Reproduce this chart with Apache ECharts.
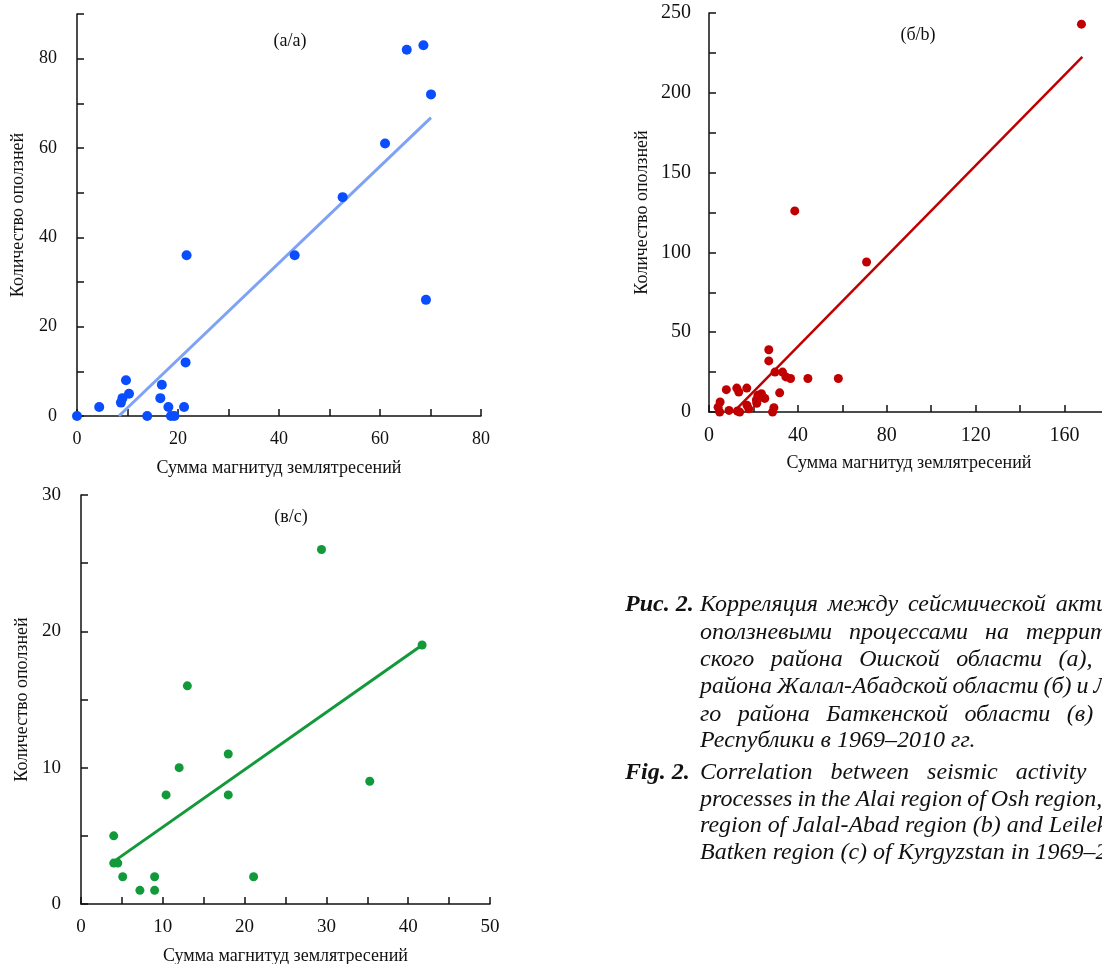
<!DOCTYPE html>
<html><head><meta charset="utf-8">
<script src="https://cdn.jsdelivr.net/npm/echarts@6/dist/echarts.min.js"></script>
<style>html,body{margin:0;padding:0;background:#fff}#c{width:1102px;height:964px}</style>
</head><body><div id="c"></div>
<script>
// Panel (a/a)
const aX = [0, 4.4, 8.7, 9.0, 9.7, 10.3, 13.9, 16.5, 16.8, 18.1, 18.6, 19.3, 21.2, 21.5, 21.7, 43.1, 52.6, 61.0, 65.3, 68.6, 70.1, 69.1];
const aY = [0, 2, 3, 4, 8, 5, 0, 4, 7, 2, 0, 0, 2, 12, 36, 36, 49, 61, 82, 83, 72, 26];
const aTrendX = [8.3, 70.1];
const aTrendY = [0, 66.8];
// Panel (б/b)
const bX = [167.6, 38.6, 70.9, 26.9, 26.9, 29.7, 33.1, 34.6, 36.7, 44.5, 58.2, 7.8, 12.5, 13.4, 17.0, 31.8, 22.0, 23.6, 25.1, 21.3, 21.5, 17.1, 17.9, 5.0, 4.1, 4.8, 9.0, 12.8, 13.8, 29.2, 28.6, 24.5];
const bY = [243, 126, 94, 39, 32, 25, 25, 22, 21, 21, 21, 14, 15, 12.5, 15, 12, 10.5, 11.5, 8.5, 7.5, 5.5, 4.2, 2, 6.3, 3, 0, 1, 0.6, 0, 2.7, 0, 9];
const bTrendX = [12, 168];
const bTrendY = [1.3, 222.5];
// Panel (в/c)
const cX = [4.0, 4.0, 4.5, 5.1, 7.2, 9.0, 9.0, 10.4, 12.0, 13.0, 18.0, 18.0, 21.1, 29.4, 35.3, 41.7];
const cY = [5, 3, 3, 2, 1, 2, 1, 8, 10, 16, 11, 8, 2, 26, 9, 19];
const cTrendX = [4.2, 41.5];
const cTrendY = [3.2, 18.9];

const xTitle = 'Сумма магнитуд землятресений';
const yTitle = 'Количество оползней';
const panelLabels = ['(а/а)', '(б/b)', '(в/с)'];
const captionRu = [
  'Корреляция между сейсмической активностью и',
  'оползневыми процессами на территории Алай-',
  'ского района Ошской области (а), Сузак-',
  'района Жалал-Абадской области (б) и Лейлекско-',
  'го района Баткенской области (в) Кыргызской',
  'Республики в 1969–2010 гг.'
];
const captionEn = [
  'Correlation between seismic activity and landslide',
  'processes in the Alai region of Osh region, Suzak',
  'region of Jalal-Abad region (b) and Leilek region of',
  'Batken region (c) of Kyrgyzstan in 1969–2010.'
];

const SERIF = '"Liberation Serif", "DejaVu Serif", serif';
const INK = '#111';
const pairs = (xs, ys) => xs.map((x, i) => [x, ys[i]]);

function axisX(gi, max, interval, labelEvery, fs, gap) {
  return {
    type: 'value', gridIndex: gi, min: 0, max: max, interval: interval,
    axisLine: { show: true, onZero: false, lineStyle: { color: INK, width: 1.5 } },
    axisTick: { show: true, inside: true, length: 7, lineStyle: { color: INK, width: 1.5 } },
    axisLabel: { fontFamily: SERIF, fontSize: fs, color: INK, margin: 14,
      formatter: v => (Math.round(v) % labelEvery === 0 ? String(v) : '') },
    splitLine: { show: false },
    name: xTitle, nameLocation: 'middle', nameGap: gap,
    nameTextStyle: { fontFamily: SERIF, fontSize: 18, color: INK }
  };
}
function axisY(gi, max, interval, labelEvery, fs, gap, margin) {
  return {
    type: 'value', gridIndex: gi, min: 0, max: max, interval: interval,
    axisLine: { show: true, onZero: false, lineStyle: { color: INK, width: 1.5 } },
    axisTick: { show: true, inside: true, length: 7, lineStyle: { color: INK, width: 1.5 } },
    axisLabel: { fontFamily: SERIF, fontSize: fs, color: INK, margin: margin,
      formatter: v => (Math.round(v) % labelEvery === 0 ? String(v) : '') },
    splitLine: { show: false },
    name: yTitle, nameLocation: 'middle', nameGap: gap,
    nameTextStyle: { fontFamily: SERIF, fontSize: 18, color: INK }
  };
}

// caption layout helper (justified lines via per-line word gap)
const mctx = document.createElement('canvas').getContext('2d');
function captionLine(text, x, y, gap, font) {
  mctx.font = font;
  const words = text.split(' ');
  const els = [];
  let cx = x;
  words.forEach(w => {
    els.push({ type: 'text', x: cx, y: y, style: { text: w, font: font, fill: INK, textVerticalAlign: 'middle', textAlign: 'left' } });
    cx += mctx.measureText(w).width + gap;
  });
  return els;
}
const capFont = 'italic 24px "Liberation Serif"';
const capBold = 'italic bold 24px "Liberation Serif"';
const ruGaps = [10, 17, 16.5, 5, 16.5, 6];
const ruY = [605, 633, 660, 687, 715, 741];
const enGaps = [18, 5, 6, 6];
const enY = [773, 800, 826, 853];
let captionEls = [];
captionEls.push({ type: 'text', x: 625, y: ruY[0], style: { text: 'Рис. 2.', font: capBold, fill: INK, textVerticalAlign: 'middle' } });
captionEls.push({ type: 'text', x: 625, y: enY[0], style: { text: 'Fig. 2.', font: capBold, fill: INK, textVerticalAlign: 'middle' } });
captionRu.forEach((t, i) => { captionEls = captionEls.concat(captionLine(t, 700, ruY[i], ruGaps[i], capFont)); });
captionEn.forEach((t, i) => { captionEls = captionEls.concat(captionLine(t, 700, enY[i], enGaps[i], capFont)); });

const labelFont = '18px "Liberation Serif"';
const panelLabelEls = [
  { type: 'text', x: 290, y: 41, style: { text: panelLabels[0], font: labelFont, fill: INK, textAlign: 'center', textVerticalAlign: 'middle' } },
  { type: 'text', x: 918, y: 35, style: { text: panelLabels[1], font: labelFont, fill: INK, textAlign: 'center', textVerticalAlign: 'middle' } },
  { type: 'text', x: 291, y: 517, style: { text: panelLabels[2], font: labelFont, fill: INK, textAlign: 'center', textVerticalAlign: 'middle' } }
];

const chart = echarts.init(document.getElementById('c'), null, { renderer: 'canvas' });
chart.setOption({
  backgroundColor: '#fff',
  animation: false,
  grid: [
    { left: 77, top: 14, width: 404, height: 402, outerBoundsMode: 'none', containLabel: false },
    { left: 709, top: 13, width: 400, height: 399, outerBoundsMode: 'none', containLabel: false },
    { left: 81, top: 495, width: 409, height: 409, outerBoundsMode: 'none', containLabel: false }
  ],
  xAxis: [
    axisX(0, 80, 10, 20, 18, 43),
    axisX(1, 180, 20, 40, 20, 42),
    axisX(2, 50, 5, 10, 19, 43)
  ],
  yAxis: [
    axisY(0, 90, 10, 20, 18, 50, 20),
    axisY(1, 250, 25, 50, 20, 58, 18),
    axisY(2, 30, 5, 10, 19, 50, 20)
  ],
  series: [
    { type: 'line', xAxisIndex: 0, yAxisIndex: 0, data: pairs(aTrendX, aTrendY), symbol: 'none', lineStyle: { color: '#7ea3f4', width: 3 }, z: 2 },
    { type: 'scatter', xAxisIndex: 0, yAxisIndex: 0, data: pairs(aX, aY), symbolSize: 10, itemStyle: { color: '#0a4dff', opacity: 1 }, z: 3 },
    { type: 'line', xAxisIndex: 1, yAxisIndex: 1, data: pairs(bTrendX, bTrendY), symbol: 'none', lineStyle: { color: '#c00000', width: 2.5 }, z: 2 },
    { type: 'scatter', xAxisIndex: 1, yAxisIndex: 1, data: pairs(bX, bY), symbolSize: 9, itemStyle: { color: '#c00000', opacity: 1 }, z: 3 },
    { type: 'line', xAxisIndex: 2, yAxisIndex: 2, data: pairs(cTrendX, cTrendY), symbol: 'none', lineStyle: { color: '#12993a', width: 3 }, z: 2 },
    { type: 'scatter', xAxisIndex: 2, yAxisIndex: 2, data: pairs(cX, cY), symbolSize: 9, itemStyle: { color: '#12993a', opacity: 1 }, z: 3 }
  ],
  graphic: panelLabelEls.concat(captionEls)
});
</script></body></html>
